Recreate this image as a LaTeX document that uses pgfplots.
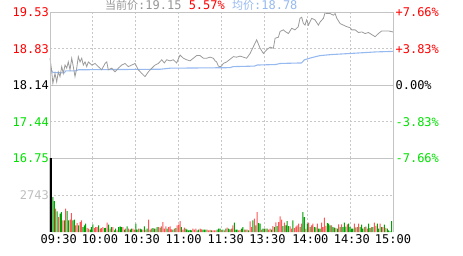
\documentclass[border=0pt]{standalone}
\usepackage{fontspec}
\usepackage{pgfplots}
\usepackage{pgfplotstable}
\pgfplotsset{compat=1.18}
\setmainfont{DejaVu Sans Mono}
\newfontfamily\cjk{Noto Sans CJK SC}
\definecolor{cred}{RGB}{255,0,0}
\definecolor{cgreen}{RGB}{0,225,0}
\definecolor{vred}{RGB}{255,85,85}
\definecolor{vgreen}{RGB}{0,160,0}
\definecolor{pgray}{RGB}{155,155,155}
\definecolor{avgblue}{RGB}{150,185,240}
\definecolor{gridc}{RGB}{200,200,200}
\definecolor{framec}{RGB}{196,196,196}
\definecolor{lblgray}{RGB}{190,190,190}
\definecolor{tgray}{RGB}{150,150,150}

\pgfplotstableread{
m p
0 18.65
1 18.45
2 18.17
3.5 18.36
4.7 18.20
5.8 18.39
7 18.30
8.2 18.49
9.3 18.36
10.5 18.52
11.7 18.46
12.8 18.58
14 18.43
15.2 18.65
16.3 18.49
17.5 18.30
18.7 18.46
19.8 18.68
21 18.58
22.2 18.65
23.3 18.52
24.5 18.58
25.7 18.49
26.8 18.58
29.2 18.52
31.5 18.55
33.8 18.49
36.2 18.43
38.5 18.55
39.7 18.58
40.8 18.43
43.2 18.46
45.5 18.39
47.8 18.46
50.2 18.52
52.5 18.55
54.8 18.49
57.2 18.52
59.5 18.55
61.8 18.43
64.2 18.36
66.5 18.30
68.8 18.39
71.2 18.46
73.5 18.52
75.8 18.55
78.2 18.62
80 18.56
81.6 18.62
84 18.60
86.3 18.62
88.6 18.56
91 18.71
93.3 18.65
95.6 18.62
98 18.60
100.3 18.65
102.6 18.70
105 18.70
107.3 18.65
109.6 18.65
112 18.67
114.3 18.65
115.5 18.60
116.6 18.58
117.8 18.50
119 18.49
120 18.50
121.3 18.55
123.6 18.58
126 18.63
128.3 18.68
130.6 18.67
133 18.69
135.3 18.67
137.6 18.65
140 18.74
142.3 18.87
144.6 19.00
147 18.84
149.3 18.74
151.6 18.81
154 18.86
156.3 18.84
157.5 19.03
159.8 19.05
161 19.16
163.3 19.19
164.5 19.16
166.8 19.12
169.1 19.22
171.4 19.19
173.7 19.25
174.9 19.41
176.1 19.43
177.3 19.31
178.4 19.28
179.6 19.38
180.8 19.28
183.1 19.41
185.4 19.38
187.8 19.28
189 19.34
191.3 19.41
192.5 19.52
193.6 19.50
196 19.50
198.3 19.47
199.5 19.50
200.7 19.41
203 19.31
205.3 19.28
207.7 19.25
210 19.23
211.2 19.19
213.5 19.19
215.8 19.14
218.2 19.15
220.5 19.12
222.8 19.14
225.1 19.10
227.5 19.06
229.8 19.12
232.1 19.17
234.5 19.17
236.8 19.17
240 19.15
}\pricetab

\pgfplotstableread{
m p
0.7 18.43
2 18.38
10 18.37
11 18.41
18 18.41
20 18.43
77 18.44
84 18.46
126 18.47
128 18.49
143 18.50
145 18.52
158 18.53
161 18.55
176 18.56
178 18.62
183 18.66
189 18.70
197 18.72
210 18.74
222 18.76
228 18.77
240 18.78
}\avgtab

\pgfplotstableread{
m v
4 1729
6 1111
9 864
11 1729
14 914
15 1408
18 494
19 667
21 741
22 864
26 300
27 247
31 296
32 370
33 370
35 247
36 296
37 370
40 692
42 247
44 370
47 124
51 370
53 250
55 247
58 247
59 173
62 247
65 173
67 173
69 914
71 247
74 247
76 370
78 420
79 741
80 247
81 420
83 370
84 420
85 200
87 247
89 494
90 543
91 815
93 173
94 321
100 247
101 173
102 247
105 247
106 200
110 173
111 124
112 150
114 124
115 124
116 124
120 150
122 124
124 321
127 247
128 494
132 124
133 150
136 173
138 173
140 790
141 370
143 988
145 1482
148 173
151 247
153 173
154 247
156 445
158 716
160 741
161 1161
162 914
164 692
168 420
169 247
171 296
172 400
173 494
174 617
176 617
179 247
181 692
183 494
184 617
187 617
190 692
191 370
192 1062
193 450
197 494
200 300
202 568
204 568
208 568
213 617
215 370
216 617
220 370
222 247
225 370
227 692
228 450
231 617
233 370
235 300
}\redtab

\pgfplotstableread{
m v
2 2593
3 2297
5 1531
7 1358
8 1482
10 864
12 1556
13 864
16 864
17 914
20 494
23 370
24 494
25 617
28 173
29 370
30 568
34 494
38 296
39 300
41 543
43 370
45 124
46 247
48 370
49 420
50 370
52 173
54 420
56 173
57 247
60 617
61 173
63 247
64 200
66 420
68 247
70 173
72 296
73 250
75 370
77 321
82 247
86 173
88 296
92 370
95 247
96 173
97 124
98 150
99 124
103 124
104 173
107 173
108 173
109 173
113 124
117 173
118 247
119 247
121 173
123 247
125 247
126 200
129 692
130 173
131 173
134 247
135 370
137 173
139 124
142 864
144 494
146 667
147 617
149 247
150 247
152 250
155 173
157 370
159 445
163 445
165 500
166 815
167 445
170 864
175 370
177 1482
178 1111
180 617
182 370
185 370
186 350
188 247
189 247
194 667
195 617
196 494
198 370
199 321
201 247
203 370
205 370
206 692
207 400
209 617
210 370
211 247
212 247
214 350
217 370
218 543
219 247
221 400
223 617
224 296
226 370
229 617
230 247
232 370
234 543
236 247
237 124
238 49
239 815
}\greentab

\begin{document}
\begin{tikzpicture}[x=1pt,y=1pt]
\path[use as bounding box] (0pt,0pt) rectangle (463pt,255pt);
\pgfplotsset{
  base/.style={
    scale only axis, width=343pt, xmin=0, xmax=240, clip=false,
    axis line style={draw=none}, separate axis lines,
    major tick length=0pt, tick style={draw=none},
    xtick={30,60,...,210}, xticklabels={}, xmajorgrids,
    grid style={gridc, dash pattern=on 2pt off 2pt, line width=0.9pt},
    tick label style={font=\fontsize{12}{14}\selectfont},
    yticklabel style={anchor=east, inner sep=0pt, xshift=-1pt},
  }
}
\begin{axis}[base, at={(50pt,97pt)}, anchor=south west, height=146pt,
  ymin=16.75, ymax=19.53,
  ytick={16.75,17.44,18.14,18.83,19.53},
  yticklabels={\textcolor{cgreen}{16.75},\textcolor{cgreen}{17.44},\textcolor{black}{18.14},\textcolor{cred}{18.83},\textcolor{cred}{19.53}},
  ymajorgrids]
\draw[framec, line width=1pt] (axis cs:0,18.14) -- (axis cs:240,18.14);
\addplot[avgblue, line width=1.1pt, no markers] table[x=m,y=p] {\avgtab};
\addplot[pgray, line width=0.8pt, no markers] table[x=m,y=p] {\pricetab};
\draw[framec, line width=1pt] (rel axis cs:0,0) rectangle (rel axis cs:1,1);
\begin{scope}[font=\fontsize{12}{14}\selectfont, inner sep=0pt]
\node[anchor=west, text=cred] at ([xshift=2.4pt]axis cs:240,19.53) {+7.66\%};
\node[anchor=west, text=cred] at ([xshift=2.4pt]axis cs:240,18.83) {+3.83\%};
\node[anchor=west, text=black] at ([xshift=2.4pt]axis cs:240,18.14) {0.00\%};
\node[anchor=west, text=cgreen] at ([xshift=2.4pt]axis cs:240,17.44) {-3.83\%};
\node[anchor=west, text=cgreen] at ([xshift=2.4pt]axis cs:240,16.75) {-7.66\%};
\end{scope}
\end{axis}

\begin{axis}[base, at={(50pt,23pt)}, anchor=south west, height=74pt,
  ymin=0, ymax=5486,
  ytick={2743}, yticklabels={\textcolor{lblgray}{2743}}, ymajorgrids,
  extra x ticks={6.1,35,64.2,93.5,123,152.2,182.2,211.2,240},
  extra x tick labels={09:30,10:00,10:30,11:00,11:30,13:30,14:00,14:30,15:00},
  extra x tick style={grid=none, xticklabel style={anchor=north, inner sep=0pt, yshift=-2.5pt}},
  ybar, bar shift=0pt]
\addplot[fill=vred, draw=none, bar width=1pt] table[x=m,y=v] {\redtab};
\addplot[fill=vgreen, draw=none, bar width=1pt] table[x=m,y=v] {\greentab};
\addplot[fill=black, draw=none, bar width=1.6pt] coordinates {(0.6,5486)};
\draw[framec, line width=1pt] (rel axis cs:0,0) -- (rel axis cs:0,1);
\draw[framec, line width=1pt] (rel axis cs:1,0) -- (rel axis cs:1,1);
\end{axis}

\node[anchor=west, inner sep=0pt, font=\fontsize{12}{14}\selectfont] at (105pt,249.5pt)
  {\textcolor{tgray}{{\cjk\fontsize{11}{13}\selectfont 当前价}:19.15} \textcolor{cred}{5.57\%} \textcolor{avgblue}{{\cjk\fontsize{11}{13}\selectfont 均价}:18.78}};
\end{tikzpicture}
\end{document}
